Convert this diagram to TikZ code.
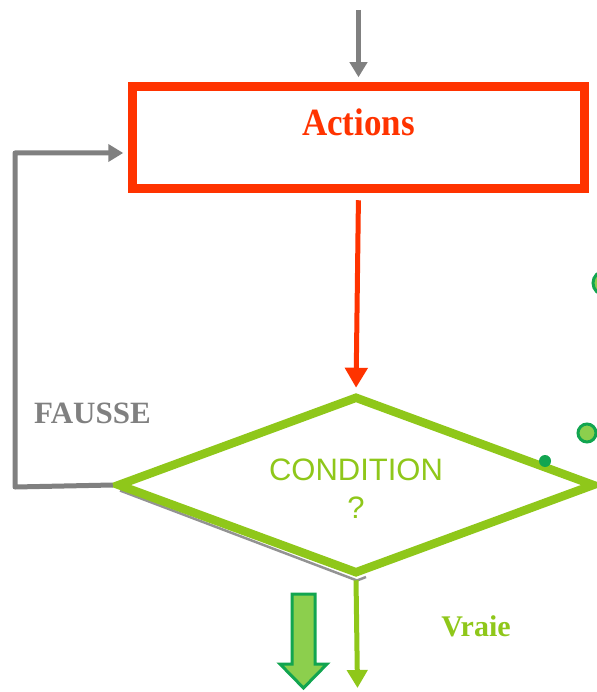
\documentclass[tikz,border=0pt]{standalone}
\usepackage{fontspec}
\setmainfont{Liberation Serif}
\newfontfamily\condfont{Liberation Sans}
\usetikzlibrary{arrows.meta,shapes.geometric}

\definecolor{actred}{HTML}{FF3300}
\definecolor{loopgray}{HTML}{808080}
\definecolor{condgreen}{HTML}{8FC71A}
\definecolor{dotdark}{HTML}{12A550}
\definecolor{dotlight}{HTML}{8CCF4D}

\begin{document}
\begin{tikzpicture}[x=1pt,y=-1pt,
  actbox/.style={draw=actred,line width=9.5pt,minimum width=452pt,
    minimum height=102pt,inner sep=0pt},
  decision/.style={diamond,draw=condgreen,line width=8.5pt,
    minimum width=478pt,minimum height=178pt,inner sep=0pt},
  grayflow/.style={draw=loopgray,line width=5pt,line join=round,
    -{Triangle[length=15pt,width=17pt]}},
  redflow/.style={draw=actred,line width=5pt,
    -{Triangle[length=20pt,width=22pt]}},
  greenflow/.style={draw=condgreen,line width=5pt,
    -{Triangle[length=18pt,width=20pt]}},
  serifbold/.style={font=\fontsize{31}{36}\selectfont\bfseries,inner sep=0pt},
  ring/.style={draw=dotdark,fill=dotlight,line width=3pt},
]
\useasboundingbox (0,0) rectangle (596,692);

% entry point of the loop
\coordinate (entry) at (358.5,10);

% process box and its caption
\node[actbox] (box) at (358.5,137.5) {};
\node[serifbold,text=actred,font=\fontsize{35}{40}\selectfont\bfseries,
  yscale=1.1] (acttxt) at (358.5,122) {Actions};

% shadow under the lower edges of the test
\draw[loopgray!85,line width=2.5pt,line join=round]
  (120,490.5) -- (357,580.5) -- (366,577);

% decision diamond
\node[decision] (test) at (356,485) {};
\node[font=\condfont\fontsize{31}{38}\selectfont,text=condgreen,
  align=center,inner sep=0pt] (testtxt) at (356,489) {CONDITION\\?};

% incoming flow
\draw[grayflow,shorten >=4.5pt] (entry) -- (box.north);

% box to test
\draw[redflow,shorten <=7pt,shorten >=4pt] (box.south) -- (test.north);

% false branch: back to the box
\coordinate (corner) at (15,487);
\draw[grayflow,shorten >=4.5pt]
  (test.west) -- (corner) |- ([yshift=-15.5pt]box.west);
\node[serifbold,text=loopgray] (fausse) at (92.5,413) {FAUSSE};

% true branch
\coordinate (exit) at (357.5,688);
\draw[greenflow,shorten <=2pt] (test.south) -- (exit);
\node[serifbold,text=condgreen,font=\fontsize{30}{36}\selectfont\bfseries]
  (vraie) at (476,626) {Vraie};

% block arrow pointing down
\draw[draw=dotdark,fill=dotlight,line width=3pt,line join=miter]
  (292,594) -- (315,594) -- (315,664) -- (327,664) -- (303.5,688)
  -- (280,664) -- (292,664) -- cycle;

% connection dots on the right
\draw[ring] (605,283) circle (12);
\draw[ring] (587,433) circle (9);
\fill[dotdark] (545,461) circle (6);
\end{tikzpicture}
\end{document}
